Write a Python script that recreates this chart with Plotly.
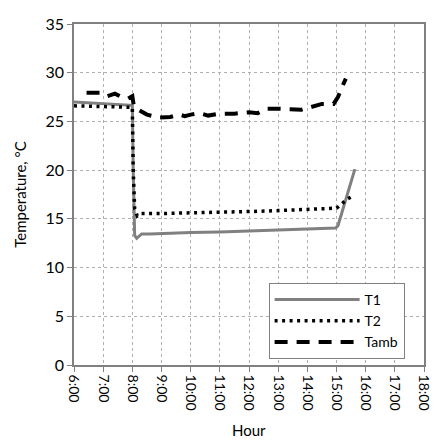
import plotly.graph_objects as go

# ---- data (hour of day as decimal hours, temperature in °C) ----
t1_hours = [6.0, 7.0, 8.0, 8.03, 8.08, 8.15, 8.22, 8.32, 8.6, 9.0, 10.0, 11.0, 12.0, 13.0, 14.0, 14.97, 15.05, 15.2, 15.4, 15.63]
t1_vals  = [27.0, 26.85, 26.65, 20.0, 13.3, 13.0, 13.2, 13.45, 13.45, 13.5, 13.6, 13.65, 13.75, 13.85, 13.95, 14.05, 14.3, 15.8, 17.9, 20.1]

t2_hours = [6.0, 7.0, 8.0, 8.03, 8.08, 8.17, 8.3, 9.0, 10.0, 11.0, 12.0, 13.0, 14.0, 15.0, 15.15, 15.35, 15.6]
t2_vals  = [26.6, 26.55, 26.45, 20.0, 16.0, 15.3, 15.55, 15.55, 15.6, 15.7, 15.75, 15.85, 15.95, 16.1, 16.45, 17.0, 17.4]

tamb_hours = [6.43, 6.95, 7.15, 7.4, 7.6, 7.85, 8.0, 8.05, 8.15, 8.5, 8.9, 9.3, 9.6, 9.8, 10.0, 10.3, 10.6, 11.0, 11.5, 12.0, 12.3, 12.6, 13.0, 13.4, 13.8, 14.1, 14.5, 14.9, 15.05, 15.2, 15.32]
tamb_vals  = [27.95, 27.95, 27.6, 27.85, 27.55, 27.35, 27.6, 26.6, 26.3, 25.7, 25.4, 25.45, 25.7, 25.55, 25.7, 25.85, 25.6, 25.8, 25.8, 25.95, 25.85, 26.3, 26.3, 26.3, 26.2, 26.45, 26.8, 26.8, 27.5, 28.6, 29.4]

tick_hours = list(range(6, 19))
tick_labels = [f"{h}:00" for h in tick_hours]

FONT = "Lato, Carlito, 'Liberation Sans', sans-serif"

fig = go.Figure()
fig.add_trace(go.Scatter(x=t1_hours, y=t1_vals, mode="lines", name="T1",
                         line=dict(color="#808080", width=3)))
fig.add_trace(go.Scatter(x=t2_hours, y=t2_vals, mode="lines", name="T2",
                         line=dict(color="#000000", width=3.5, dash="3px,4.5px")))
fig.add_trace(go.Scatter(x=tamb_hours, y=tamb_vals, mode="lines", name="Tamb",
                         line=dict(color="#000000", width=4, dash="13px,9px")))

# page body has an 8px default margin, so the figure is offset by 8px
fig.update_layout(
    width=424, height=432,
    margin=dict(l=66, r=6, t=12, b=75),
    paper_bgcolor="white", plot_bgcolor="white",
    font=dict(family=FONT, size=14, color="#000000"),
    showlegend=True,
    legend=dict(x=0.556, y=0.2406, xanchor="left", yanchor="top",
                bgcolor="white", bordercolor="#808080", borderwidth=1,
                itemwidth=85, font=dict(size=14, family=FONT),
                tracegroupgap=0),
    annotations=[dict(text="Hour", xref="paper", y=0, yref="paper", x=0.5,
                      yshift=-65, xanchor="center", yanchor="middle", showarrow=False,
                      font=dict(size=15, family=FONT))],
)
fig.update_xaxes(
    range=[6, 18], tickmode="array", tickvals=tick_hours, ticktext=tick_labels,
    tickangle=90, ticks="outside", ticklen=5, tickcolor="#808080",
    ticklabeloverflow="allow", automargin=False,
    showline=True, linecolor="#808080", linewidth=1.5, mirror=True,
    showgrid=True, gridcolor="#b0b0b0", griddash="dot", gridwidth=1,
    zeroline=False, tickfont=dict(size=14),
)
fig.update_yaxes(
    range=[0, 35], tickmode="array", tickvals=list(range(0, 36, 5)),
    ticks="outside", ticklen=5, tickcolor="#808080",
    showline=True, linecolor="#808080", linewidth=1.5, mirror=True,
    showgrid=True, gridcolor="#b0b0b0", griddash="dot", gridwidth=1,
    zeroline=False, title=dict(text="Temperature, °C", font=dict(size=15)),
    tickfont=dict(size=16),
)

fig.write_html("out.html")
